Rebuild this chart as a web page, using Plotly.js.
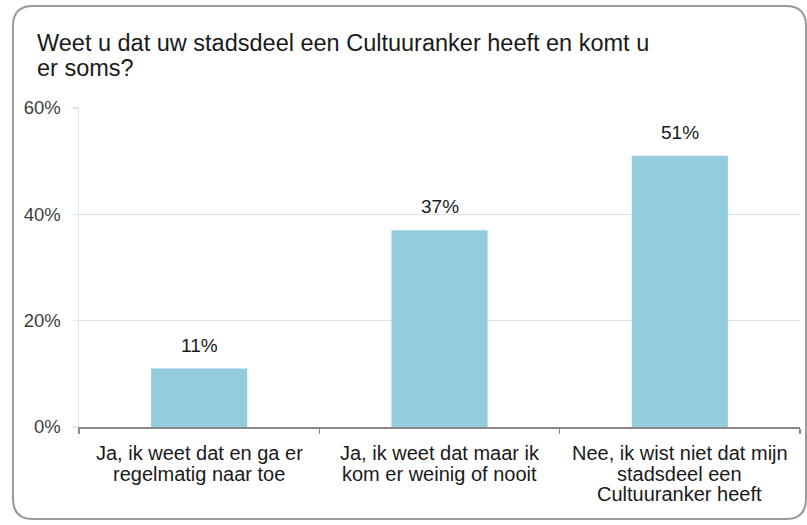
<!DOCTYPE html>
<html>
<head>
<meta charset="utf-8">
<script src="https://cdn.plot.ly/plotly-3.0.1.min.js"></script>
<style>html,body{margin:0;padding:0;background:#fff;}#chart{width:807px;height:525px;}</style>
</head>
<body>
<div id="chart"></div>
<script>
const categories = [
  "Ja, ik weet dat en ga er<br>regelmatig naar toe",
  "Ja, ik weet dat maar ik<br>kom er weinig of nooit",
  "Nee, ik wist niet dat mijn<br>stadsdeel een<br>Cultuuranker heeft"
];
const values = [11, 37, 51];
const valueLabels = ["11%", "37%", "51%"];
const yTickVals = [0, 20, 40, 60];
const yTickText = ["0%", "20%", "40%", "60%"];
const titleLines = ["Weet u dat uw stadsdeel een Cultuuranker heeft en komt u", "er soms?"];

const FONT = "Liberation Sans, Arial, sans-serif";
const W = 807, H = 525;
const M = {l: 79, r: 7, t: 108, b: 98};
const pw = W - M.l - M.r, ph = H - M.t - M.b;
function px(x) { return (x - M.l) / pw; }
function py(y) { return (H - M.b - y) / ph; }

// rounded frame
const fx0 = 13, fx1 = 806, fy0 = 6, fy1 = 519, r = 20;
const framePath =
  `M ${px(fx0 + r)} ${py(fy0)} L ${px(fx1 - r)} ${py(fy0)} Q ${px(fx1)} ${py(fy0)} ${px(fx1)} ${py(fy0 + r)} ` +
  `L ${px(fx1)} ${py(fy1 - r)} Q ${px(fx1)} ${py(fy1)} ${px(fx1 - r)} ${py(fy1)} ` +
  `L ${px(fx0 + r)} ${py(fy1)} Q ${px(fx0)} ${py(fy1)} ${px(fx0)} ${py(fy1 - r)} ` +
  `L ${px(fx0)} ${py(fy0 + r)} Q ${px(fx0)} ${py(fy0)} ${px(fx0 + r)} ${py(fy0)} Z`;

const trace = {
  type: "bar",
  x: categories,
  y: values,
  width: 0.4,
  marker: {color: "#93CDDD"},
  hoverinfo: "skip"
};

const annotations = [];
// value labels
categories.forEach((c, i) => {
  annotations.push({
    x: c, y: values[i], xref: "x", yref: "y",
    text: valueLabels[i], showarrow: false,
    yanchor: "bottom", yshift: 11,
    font: {family: FONT, size: 19, color: "#1a1a1a"}
  });
});
// category labels, one annotation per line for tight line spacing
categories.forEach((c, i) => {
  c.split("<br>").forEach((line, j) => {
    annotations.push({
      x: c, y: 0, xref: "x", yref: "y",
      text: line, showarrow: false,
      xanchor: "center", yanchor: "middle",
      yshift: -(26 + 20.5 * j),
      font: {family: FONT, size: 20, color: "#1a1a1a"}
    });
  });
});
// title lines
titleLines.forEach((line, j) => {
  annotations.push({
    x: px(35), y: 1, xref: "paper", yref: "paper",
    text: line, showarrow: false,
    xanchor: "left", yanchor: "middle",
    yshift: 65 - 25 * j,
    font: {family: FONT, size: 23.5, color: "#1a1a1a"}
  });
});

const layout = {
  width: W, height: H,
  margin: M,
  paper_bgcolor: "#fff", plot_bgcolor: "#fff",
  showlegend: false,
  xaxis: {
    type: "category",
    tickson: "boundaries",
    ticks: "outside", ticklen: 5, tickcolor: "#888888", tickwidth: 1.5,
    showline: true, linecolor: "#888888", linewidth: 1.5,
    showgrid: false, zeroline: false,
    showticklabels: false,
    fixedrange: true
  },
  yaxis: {
    range: [0, 60],
    tickvals: yTickVals, ticktext: yTickText,
    ticks: "outside", ticklen: 5, tickcolor: "#D9E4F1", tickwidth: 1.5,
    showline: true, linecolor: "#D9E4F1", linewidth: 1.5,
    showgrid: true, gridcolor: "#D9E4F1", gridwidth: 1.5,
    zeroline: false,
    ticklabelstandoff: 8,
    tickfont: {family: FONT, size: 18.5, color: "#404040"},
    fixedrange: true
  },
  annotations: annotations,
  shapes: [{
    type: "path", xref: "paper", yref: "paper",
    path: framePath,
    line: {color: "#9a9a9a", width: 2},
    fillcolor: "rgba(0,0,0,0)",
    layer: "above"
  }]
};

Plotly.newPlot("chart", [trace], layout, {displayModeBar: false, staticPlot: true});
</script>
</body>
</html>
